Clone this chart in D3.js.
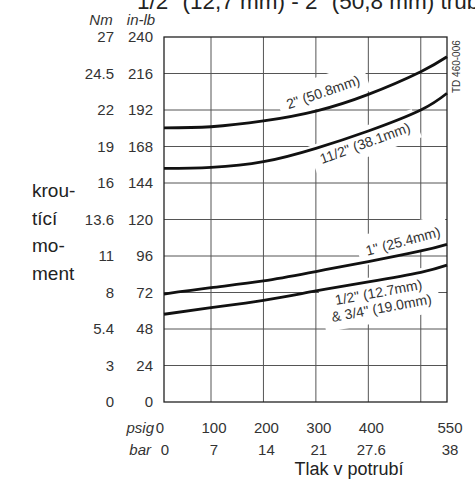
<!DOCTYPE html>
<html>
<head>
<meta charset="utf-8">
<script src="https://cdn.jsdelivr.net/npm/d3@7"></script>
<style>
  body { margin: 0; background: #fff; }
  svg { display: block; font-family: "Liberation Sans", Arial, sans-serif; }
</style>
</head>
<body>
<div id="chart"></div>
<script>
// tick hodnoty
var inlbTicks = [0, 24, 48, 72, 96, 120, 144, 168, 192, 216, 240];
var nmLabels = ["0", "3", "5.4", "8", "11", "13.6", "16", "19", "22", "24.5", "27"];
var psigTicks = [0, 100, 200, 300, 400, 550];
var barLabels = ["0", "7", "14", "21", "27.6", "38"];
var gridPsig = [100, 200, 300, 400, 500];

// krivky: tlak (psig) -> moment (in-lb)
var psig = [0, 100, 200, 300, 400, 500, 550];
var moment2 = [180.3, 181, 184.8, 191.3, 202.3, 217.2, 227];
var moment112 = [153.6, 154.3, 158, 166.8, 178.2, 192, 203];
var moment1 = [71, 75.2, 79.6, 85.8, 92.3, 99.3, 103.7];
var moment12 = [57.7, 62, 66.8, 73, 79, 85.3, 90];

var krivky = [
  {values: moment2, label: ['2" (50.8mm)'], lx: 323, ly: 92, rot: -19},
  {values: moment112, label: ['11/2" (38.1mm)'], lx: 365, ly: 143, rot: -20},
  {values: moment1, label: ['1" (25.4mm)'], lx: 403, ly: 241, rot: -15},
  {values: moment12, label: ['1/2" (12.7mm)', '& 3/4" (19.0mm)'], lx: 380, ly: 300, rot: -10.5}
];

var width = 475, height = 481;
var svg = d3.select("#chart").append("svg")
  .attr("width", width)
  .attr("height", height);

var x = d3.scaleLinear().domain([0, 100, 550]).range([164, 211, 447]);
var y = d3.scaleLinear().domain([0, 240]).range([402, 37]);

// titulek (oriznuty nahore jako v predloze)
svg.append("text")
  .attr("x", 137).attr("y", 8.5)
  .attr("font-size", 22.5)
  .attr("fill", "#222")
  .text('1/2" (12,7 mm) - 2" (50,8 mm) trubky');

// mrizka
var grid = svg.append("g").attr("stroke", "#555").attr("stroke-width", 1);
grid.selectAll(".h").data(inlbTicks.slice(1, -1)).enter().append("line")
  .attr("x1", x(0)).attr("x2", x(550))
  .attr("y1", function(d) { return y(d); })
  .attr("y2", function(d) { return y(d); });
grid.selectAll(".v").data(gridPsig).enter().append("line")
  .attr("x1", function(d) { return x(d); })
  .attr("x2", function(d) { return x(d); })
  .attr("y1", y(240)).attr("y2", y(0));

// bile pozadi popisku + popisky
var popisky = svg.append("g");
krivky.forEach(function(k) {
  var g = popisky.append("g")
    .attr("transform", "translate(" + k.lx + "," + k.ly + ") rotate(" + k.rot + ")");
  var bg = g.append("rect").attr("fill", "#fff");
  var t = g.append("text")
    .attr("text-anchor", "middle")
    .attr("font-size", 14)
    .attr("fill", "#333");
  var n = k.label.length;
  k.label.forEach(function(s, i) {
    t.append("tspan")
      .attr("x", 0)
      .attr("y", (i - (n - 1) / 2) * 16 + 5)
      .text(s);
  });
  var bb = t.node().getBBox();
  bg.attr("x", bb.x - 8).attr("y", bb.y - 8)
    .attr("width", bb.width + 16).attr("height", bb.height + 14);
});

// ramecek
svg.append("rect")
  .attr("x", x(0)).attr("y", y(240))
  .attr("width", x(550) - x(0)).attr("height", y(0) - y(240))
  .attr("fill", "none").attr("stroke", "#222").attr("stroke-width", 1.3);

// krivky
var line = d3.line()
  .x(function(d, i) { return x(psig[i]); })
  .y(function(d) { return y(d); })
  .curve(d3.curveNatural);

svg.selectAll(".krivka").data(krivky).enter().append("path")
  .attr("d", function(d) { return line(d.values); })
  .attr("fill", "none")
  .attr("stroke", "#111")
  .attr("stroke-width", 2.8);

// osa y - dva sloupce
var ylab = svg.append("g").attr("font-size", 15).attr("fill", "#333").attr("text-anchor", "end");
ylab.selectAll(".nm").data(inlbTicks).enter().append("text")
  .attr("x", 114)
  .attr("y", function(d) { return y(d) + 5; })
  .text(function(d, i) { return nmLabels[i]; });
ylab.selectAll(".inlb").data(inlbTicks).enter().append("text")
  .attr("x", 153)
  .attr("y", function(d) { return y(d) + 5; })
  .text(function(d) { return d; });

svg.append("text").attr("x", 101).attr("y", 25).attr("text-anchor", "middle")
  .attr("font-size", 15).attr("font-style", "italic").attr("fill", "#333").text("Nm");
svg.append("text").attr("x", 141).attr("y", 25).attr("text-anchor", "middle")
  .attr("font-size", 15).attr("font-style", "italic").attr("fill", "#333").text("in-lb");

// osa x - psig a bar
var xlab = svg.append("g").attr("font-size", 15).attr("fill", "#333").attr("text-anchor", "middle");
xlab.selectAll(".psig").data(psigTicks).enter().append("text")
  .attr("x", function(d) { return d === 0 ? x(d) - 4 : x(d) + 3; })
  .attr("y", 433)
  .text(function(d) { return d; });
xlab.selectAll(".bar").data(psigTicks).enter().append("text")
  .attr("x", function(d) { return d === 0 ? x(d) + 1 : x(d) + 3; })
  .attr("y", 455)
  .text(function(d, i) { return barLabels[i]; });

svg.append("text").attr("x", 154).attr("y", 433).attr("text-anchor", "end")
  .attr("font-size", 15).attr("font-style", "italic").attr("fill", "#333").text("psig");
svg.append("text").attr("x", 151).attr("y", 455).attr("text-anchor", "end")
  .attr("font-size", 15).attr("font-style", "italic").attr("fill", "#333").text("bar");

svg.append("text").attr("x", 349).attr("y", 475).attr("text-anchor", "middle")
  .attr("font-size", 18).attr("fill", "#222")
  .text("Tlak v potrubí");

// popis osy y
var ynazev = svg.append("text").attr("font-size", 19).attr("fill", "#222");
["krou-", "tící", "mo-", "ment"].forEach(function(s, i) {
  ynazev.append("tspan").attr("x", 32).attr("y", 197 + i * 27.5).text(s);
});

// kod vykresu
svg.append("text")
  .attr("transform", "translate(460,93) rotate(-90)")
  .attr("font-size", 10).attr("fill", "#333")
  .text("TD 460-006");
</script>
</body>
</html>
